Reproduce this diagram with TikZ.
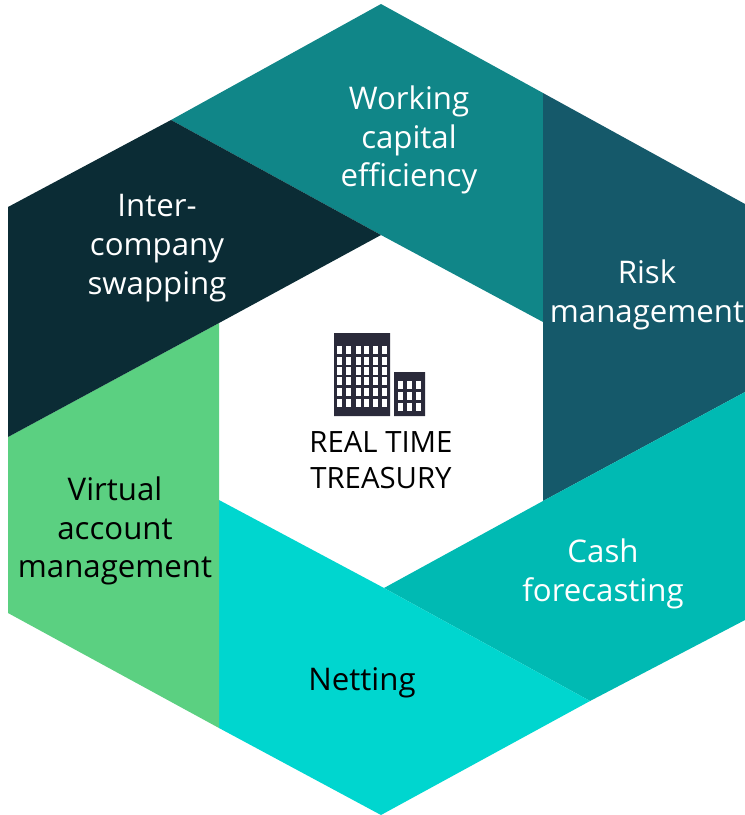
\documentclass[tikz,border=0pt]{standalone}
\usepackage{fontspec}
\setmainfont{Open Sans}
\definecolor{WorkingTeal}{HTML}{108688}
\definecolor{RiskBlue}{HTML}{15596A}
\definecolor{CashTeal}{HTML}{00BAB3}
\definecolor{NettingCyan}{HTML}{00D6CF}
\definecolor{VirtualGreen}{HTML}{5BD081}
\definecolor{InterDark}{HTML}{0B2C35}
\definecolor{BuildingInk}{HTML}{2A2A3A}
\tikzset{
  label on/.style={align=center, font=\fontsize{23.4}{29}\selectfont},
  core label/.style={align=center, font=\fontsize{22}{26.5}\selectfont, text=black},
}
\begin{document}
\begin{tikzpicture}[x=0.75pt, y=-0.75pt]
  \useasboundingbox (0,0) rectangle (745,815);
  \fill [WorkingTeal]  (381,4) -- (543,93) -- (543,322) -- (381,235) -- (171,120) -- cycle;
  \fill [RiskBlue]     (543,93) -- (745,204) -- (745,392) -- (543,501) -- cycle;
  \fill [CashTeal]     (745,392) -- (745,620) -- (590,701) -- (384,588) -- (543,501) -- cycle;
  \fill [NettingCyan]  (219,500) -- (384,588) -- (590,701) -- (381,815) -- (219,728) -- cycle;
  \fill [VirtualGreen] (8,437) -- (219,323) -- (219,728) -- (8,613) -- cycle;
  \fill [InterDark]    (8,207) -- (171,120) -- (381,235) -- (219,323) -- (8,437) -- cycle;
  % buildings
  \fill [BuildingInk] (334,333) rectangle (390,416)
                      (394,372) rectangle (425,416);
  \foreach \wx in {337,346,356,364,373,382}
    \foreach \wy in {346,356.5,367,377,388,398.5}
      \fill [white] (\wx,\wy) rectangle +(5,8);
  \foreach \wx in {398,407,416}
    \foreach \wy in {381,392,402.5}
      \fill [white] (\wx,\wy) rectangle +(5,8);
  \path node (working) at (409,140) [label on, text=white] {Working\\capital\\efficiency}
        node (risk)    at (647,295) [label on, text=white] {Risk\\management}
        node (cash)    at (603,574) [label on, text=white] {Cash\\forecasting}
        node (netting) at (362,683) [label on, text=black] {Netting}
        node (virtual) at (115,531) [label on, text=black] {Virtual\\account\\management}
        node (inter)   at (157,248) [label on, text=white] {Inter-\\company\\swapping}
        %
        node (core)    at (381,460) [core label] {REAL TIME\\TREASURY};
\end{tikzpicture}
\end{document}
